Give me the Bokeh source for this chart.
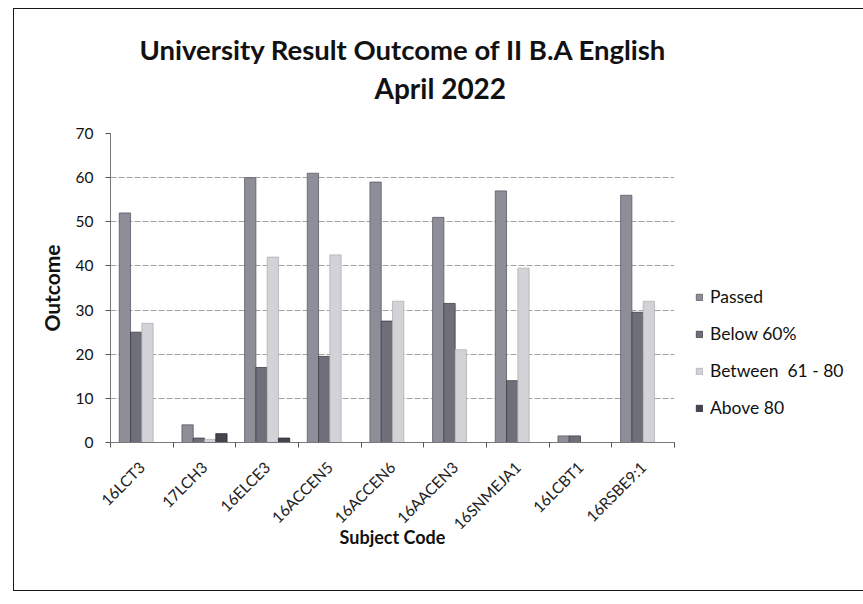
from bokeh.plotting import figure
from bokeh.models import Range1d, FixedTicker, Legend, LegendItem, Title
from bokeh.embed import file_html
from bokeh.resources import INLINE

categories = ["16LCT3", "17LCH3", "16ELCE3", "16ACCEN5", "16ACCEN6",
              "16AACEN3", "16SNMEJA1", "16LCBT1", "16RSBE9:1"]
passed = [52, 4, 60, 61, 59, 51, 57, 1.5, 56]
below_60 = [25, 1, 17, 19.5, 27.5, 31.5, 14, 1.5, 29.5]
between_61_80 = [27, 0.7, 42, 42.5, 32, 21, 39.5, 0, 32]
above_80 = [0, 2, 1, 0, 0, 0, 0, 0, 0]
series_names = ["Passed", "Below 60%", "Between  61 - 80", "Above 80"]
y_ticks = [0, 10, 20, 30, 40, 50, 60, 70]

FONT = "Lato"
colors = ["#8e8e98", "#6f6f79", "#d2d2d7", "#45454f"]
edges = ["#5a5a64", "#3e3e48", "#b0b0b6", "#2a2a32"]

p = figure(frame_width=564, frame_height=309, output_backend="svg", toolbar_location=None,
           x_range=Range1d(0, len(categories)), y_range=Range1d(0, 70))
p.styles = {"border": "1px solid #1a1a1a", "margin-left": "13px", "margin-top": "8px"}
p.min_border_left = 96
p.min_border_right = 183
p.min_border_top = 124
p.min_border_bottom = 148
p.outline_line_color = None
p.background_fill_color = "white"

p.add_layout(Title(text="April 2022", align="left", offset=264, text_font=FONT,
                   text_font_size="28px", text_font_style="bold", text_color="#111111",
                   standoff=58), "above")
p.add_layout(Title(text="University Result Outcome of II B.A English", align="left", offset=29,
                   text_font=FONT, text_font_size="27.5px", text_font_style="bold",
                   text_color="#111111", standoff=-52), "above")

centers = [i + 0.5 for i in range(len(categories))]
width = 0.18
offsets = [-0.27, -0.09, 0.09, 0.27]
renderers = []
for vals, off, c, e in zip([passed, below_60, between_61_80, above_80], offsets, colors, edges):
    r = p.vbar(x=[cx + off for cx in centers], top=vals, width=width, bottom=0,
               fill_color=c, line_color=e, line_width=0.8)
    renderers.append(r)

# axes
xa = p.xaxis[0]
xa.ticker = FixedTicker(ticks=centers, minor_ticks=list(range(len(categories) + 1)))
xa.major_label_overrides = {cx: lab for cx, lab in zip(centers, categories)}
xa.major_tick_line_color = None
xa.minor_tick_in = 0
xa.minor_tick_out = 5
xa.minor_tick_line_color = "#555555"
xa.major_label_orientation = 0.785
xa.major_label_standoff = 16
xa.major_label_text_font = FONT
xa.major_label_text_font_size = "15.5px"
xa.major_label_text_color = "#222222"
xa.axis_line_color = "#777777"
xa.axis_label = "Subject Code"
xa.axis_label_text_font = FONT
xa.axis_label_text_font_size = "18px"
xa.axis_label_text_font_style = "bold"
xa.axis_label_text_color = "#111111"
xa.axis_label_standoff = -16

ya = p.yaxis[0]
ya.ticker = FixedTicker(ticks=y_ticks)
ya.minor_tick_line_color = None
ya.major_tick_in = 0
ya.major_tick_out = 5
ya.major_tick_line_color = "#555555"
ya.axis_line_color = "#777777"
ya.major_label_standoff = 12
ya.major_label_text_font = FONT
ya.major_label_text_font_size = "15.5px"
ya.major_label_text_color = "#111111"
ya.axis_label = "Outcome"
ya.axis_label_text_font = FONT
ya.axis_label_text_font_size = "21px"
ya.axis_label_text_font_style = "bold"
ya.axis_label_text_color = "#111111"
ya.axis_label_standoff = 9

p.xgrid.grid_line_color = None
p.ygrid.grid_line_color = "#8c8c8c"
p.ygrid.grid_line_alpha = 0.8
p.ygrid.grid_line_dash = "6 2"

legend = Legend(items=[LegendItem(label=n, renderers=[r]) for n, r in zip(series_names, renderers)],
                location=(21, 24), orientation="vertical", border_line_color=None,
                background_fill_alpha=0, label_text_font=FONT, label_text_font_size="17.5px",
                label_text_color="#111111", glyph_width=8, glyph_height=8,
                spacing=16, label_standoff=7, padding=0, margin=0)
p.add_layout(legend, "right")

open("out.html", "w").write(file_html(p, INLINE))
